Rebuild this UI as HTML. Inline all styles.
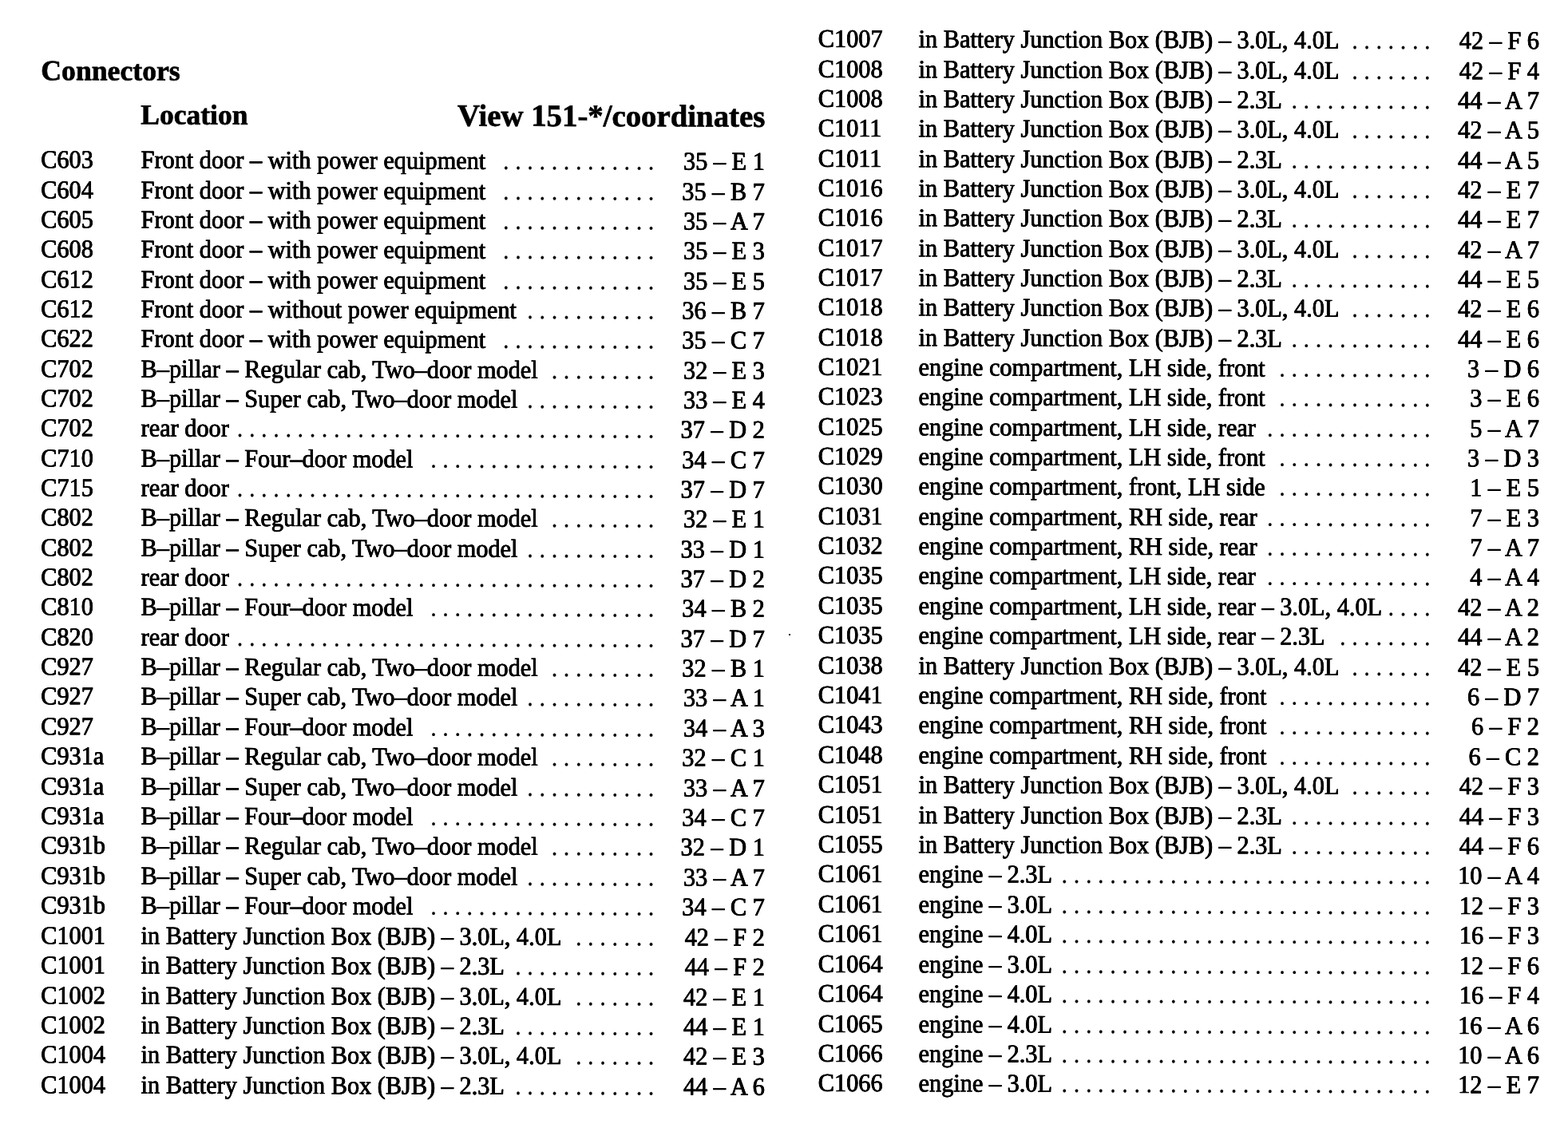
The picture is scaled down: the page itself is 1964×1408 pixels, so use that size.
<!DOCTYPE html>
<html lang="en"><head><meta charset="utf-8"><title>Connectors</title>
<style>
html,body{margin:0;padding:0;background:#fff}
body{width:1964px;height:1408px;position:relative;overflow:hidden;color:#000;
 font-family:"Liberation Serif","Times New Roman",Times,serif;font-size:30.3px;line-height:36px;
 -webkit-font-smoothing:antialiased}
.r{position:absolute;left:0;width:1964px;height:36px;white-space:pre;transform:scaleY(1.05);transform-origin:0 28.23px;-webkit-text-stroke:0.6px #000;text-shadow:0.3px 0 0 #000,-0.3px 0 0 #000}
.r span{position:absolute;top:0}
.r .d{-webkit-text-stroke:0.25px #000;text-shadow:none}
.h{position:absolute;font-weight:bold;white-space:pre;-webkit-text-stroke:0.7px #000}
#pg{position:absolute;left:0;top:0;width:1964px;height:1408px;transform:matrix(1,0.0028,0,1,0,0);transform-origin:0 0}
</style></head><body><div id="pg">
<div class="h" style="left:51.3px;top:66.95px;font-size:35.7px;line-height:43px;">Connectors</div>
<div class="h" style="left:176.3px;top:122.22px;font-size:35.5px;line-height:43px;">Location</div>
<div class="h" style="right:1005.7px;top:120.07px;font-size:38.8px;line-height:46px">View 151-*/coordinates</div>
<div class="r" style="top:182.47px"><span style="left:51.2px">C603</span><span style="left:176.6px">Front door – with power equipment</span><span class="d" style="right:1144.6px">. . . . . . . . . . . . .</span><span style="right:1006.2px">35 – E 1</span></div>
<div class="r" style="top:219.75px"><span style="left:51.2px">C604</span><span style="left:176.6px">Front door – with power equipment</span><span class="d" style="right:1144.6px">. . . . . . . . . . . . .</span><span style="right:1006.2px">35 – B 7</span></div>
<div class="r" style="top:257.03px"><span style="left:51.2px">C605</span><span style="left:176.6px">Front door – with power equipment</span><span class="d" style="right:1144.6px">. . . . . . . . . . . . .</span><span style="right:1006.2px">35 – A 7</span></div>
<div class="r" style="top:294.32px"><span style="left:51.2px">C608</span><span style="left:176.6px">Front door – with power equipment</span><span class="d" style="right:1144.6px">. . . . . . . . . . . . .</span><span style="right:1006.2px">35 – E 3</span></div>
<div class="r" style="top:331.62px"><span style="left:51.2px">C612</span><span style="left:176.6px">Front door – with power equipment</span><span class="d" style="right:1144.6px">. . . . . . . . . . . . .</span><span style="right:1006.2px">35 – E 5</span></div>
<div class="r" style="top:368.92px"><span style="left:51.2px">C612</span><span style="left:176.6px">Front door – without power equipment</span><span class="d" style="right:1144.6px">. . . . . . . . . . .</span><span style="right:1006.2px">36 – B 7</span></div>
<div class="r" style="top:406.23px"><span style="left:51.2px">C622</span><span style="left:176.6px">Front door – with power equipment</span><span class="d" style="right:1144.6px">. . . . . . . . . . . . .</span><span style="right:1006.2px">35 – C 7</span></div>
<div class="r" style="top:443.54px"><span style="left:51.2px">C702</span><span style="left:176.6px">B–pillar – Regular cab, Two–door model</span><span class="d" style="right:1144.6px">. . . . . . . . .</span><span style="right:1006.2px">32 – E 3</span></div>
<div class="r" style="top:480.86px"><span style="left:51.2px">C702</span><span style="left:176.6px">B–pillar – Super cab, Two–door model</span><span class="d" style="right:1144.6px">. . . . . . . . . . .</span><span style="right:1006.2px">33 – E 4</span></div>
<div class="r" style="top:518.19px"><span style="left:51.2px">C702</span><span style="left:176.6px">rear door</span><span class="d" style="right:1144.6px">. . . . . . . . . . . . . . . . . . . . . . . . . . . . . . . . . . .</span><span style="right:1006.2px">37 – D 2</span></div>
<div class="r" style="top:555.52px"><span style="left:51.2px">C710</span><span style="left:176.6px">B–pillar – Four–door model</span><span class="d" style="right:1144.6px">. . . . . . . . . . . . . . . . . . .</span><span style="right:1006.2px">34 – C 7</span></div>
<div class="r" style="top:592.86px"><span style="left:51.2px">C715</span><span style="left:176.6px">rear door</span><span class="d" style="right:1144.6px">. . . . . . . . . . . . . . . . . . . . . . . . . . . . . . . . . . .</span><span style="right:1006.2px">37 – D 7</span></div>
<div class="r" style="top:630.20px"><span style="left:51.2px">C802</span><span style="left:176.6px">B–pillar – Regular cab, Two–door model</span><span class="d" style="right:1144.6px">. . . . . . . . .</span><span style="right:1006.2px">32 – E 1</span></div>
<div class="r" style="top:667.55px"><span style="left:51.2px">C802</span><span style="left:176.6px">B–pillar – Super cab, Two–door model</span><span class="d" style="right:1144.6px">. . . . . . . . . . .</span><span style="right:1006.2px">33 – D 1</span></div>
<div class="r" style="top:704.91px"><span style="left:51.2px">C802</span><span style="left:176.6px">rear door</span><span class="d" style="right:1144.6px">. . . . . . . . . . . . . . . . . . . . . . . . . . . . . . . . . . .</span><span style="right:1006.2px">37 – D 2</span></div>
<div class="r" style="top:742.27px"><span style="left:51.2px">C810</span><span style="left:176.6px">B–pillar – Four–door model</span><span class="d" style="right:1144.6px">. . . . . . . . . . . . . . . . . . .</span><span style="right:1006.2px">34 – B 2</span></div>
<div class="r" style="top:779.64px"><span style="left:51.2px">C820</span><span style="left:176.6px">rear door</span><span class="d" style="right:1144.6px">. . . . . . . . . . . . . . . . . . . . . . . . . . . . . . . . . . .</span><span style="right:1006.2px">37 – D 7</span></div>
<div class="r" style="top:817.01px"><span style="left:51.2px">C927</span><span style="left:176.6px">B–pillar – Regular cab, Two–door model</span><span class="d" style="right:1144.6px">. . . . . . . . .</span><span style="right:1006.2px">32 – B 1</span></div>
<div class="r" style="top:854.39px"><span style="left:51.2px">C927</span><span style="left:176.6px">B–pillar – Super cab, Two–door model</span><span class="d" style="right:1144.6px">. . . . . . . . . . .</span><span style="right:1006.2px">33 – A 1</span></div>
<div class="r" style="top:891.78px"><span style="left:51.2px">C927</span><span style="left:176.6px">B–pillar – Four–door model</span><span class="d" style="right:1144.6px">. . . . . . . . . . . . . . . . . . .</span><span style="right:1006.2px">34 – A 3</span></div>
<div class="r" style="top:929.17px"><span style="left:51.2px">C931a</span><span style="left:176.6px">B–pillar – Regular cab, Two–door model</span><span class="d" style="right:1144.6px">. . . . . . . . .</span><span style="right:1006.2px">32 – C 1</span></div>
<div class="r" style="top:966.57px"><span style="left:51.2px">C931a</span><span style="left:176.6px">B–pillar – Super cab, Two–door model</span><span class="d" style="right:1144.6px">. . . . . . . . . . .</span><span style="right:1006.2px">33 – A 7</span></div>
<div class="r" style="top:1003.98px"><span style="left:51.2px">C931a</span><span style="left:176.6px">B–pillar – Four–door model</span><span class="d" style="right:1144.6px">. . . . . . . . . . . . . . . . . . .</span><span style="right:1006.2px">34 – C 7</span></div>
<div class="r" style="top:1041.39px"><span style="left:51.2px">C931b</span><span style="left:176.6px">B–pillar – Regular cab, Two–door model</span><span class="d" style="right:1144.6px">. . . . . . . . .</span><span style="right:1006.2px">32 – D 1</span></div>
<div class="r" style="top:1078.80px"><span style="left:51.2px">C931b</span><span style="left:176.6px">B–pillar – Super cab, Two–door model</span><span class="d" style="right:1144.6px">. . . . . . . . . . .</span><span style="right:1006.2px">33 – A 7</span></div>
<div class="r" style="top:1116.23px"><span style="left:51.2px">C931b</span><span style="left:176.6px">B–pillar – Four–door model</span><span class="d" style="right:1144.6px">. . . . . . . . . . . . . . . . . . .</span><span style="right:1006.2px">34 – C 7</span></div>
<div class="r" style="top:1153.66px"><span style="left:51.2px">C1001</span><span style="left:176.6px">in Battery Junction Box (BJB) – 3.0L, 4.0L</span><span class="d" style="right:1144.6px">. . . . . . .</span><span style="right:1006.2px">42 – F 2</span></div>
<div class="r" style="top:1191.09px"><span style="left:51.2px">C1001</span><span style="left:176.6px">in Battery Junction Box (BJB) – 2.3L</span><span class="d" style="right:1144.6px">. . . . . . . . . . . .</span><span style="right:1006.2px">44 – F 2</span></div>
<div class="r" style="top:1228.53px"><span style="left:51.2px">C1002</span><span style="left:176.6px">in Battery Junction Box (BJB) – 3.0L, 4.0L</span><span class="d" style="right:1144.6px">. . . . . . .</span><span style="right:1006.2px">42 – E 1</span></div>
<div class="r" style="top:1265.98px"><span style="left:51.2px">C1002</span><span style="left:176.6px">in Battery Junction Box (BJB) – 2.3L</span><span class="d" style="right:1144.6px">. . . . . . . . . . . .</span><span style="right:1006.2px">44 – E 1</span></div>
<div class="r" style="top:1303.43px"><span style="left:51.2px">C1004</span><span style="left:176.6px">in Battery Junction Box (BJB) – 3.0L, 4.0L</span><span class="d" style="right:1144.6px">. . . . . . .</span><span style="right:1006.2px">42 – E 3</span></div>
<div class="r" style="top:1340.89px"><span style="left:51.2px">C1004</span><span style="left:176.6px">in Battery Junction Box (BJB) – 2.3L</span><span class="d" style="right:1144.6px">. . . . . . . . . . . .</span><span style="right:1006.2px">44 – A 6</span></div>
<div class="r" style="top:28.49px"><span style="left:1024.8px">C1007</span><span style="left:1150.6px">in Battery Junction Box (BJB) – 3.0L, 4.0L</span><span class="d" style="right:172.4px">. . . . . . .</span><span style="right:36.0px">42 – F 6</span></div>
<div class="r" style="top:65.78px"><span style="left:1024.8px">C1008</span><span style="left:1150.6px">in Battery Junction Box (BJB) – 3.0L, 4.0L</span><span class="d" style="right:172.4px">. . . . . . .</span><span style="right:36.0px">42 – F 4</span></div>
<div class="r" style="top:103.07px"><span style="left:1024.8px">C1008</span><span style="left:1150.6px">in Battery Junction Box (BJB) – 2.3L</span><span class="d" style="right:172.4px">. . . . . . . . . . . .</span><span style="right:36.0px">44 – A 7</span></div>
<div class="r" style="top:140.37px"><span style="left:1024.8px">C1011</span><span style="left:1150.6px">in Battery Junction Box (BJB) – 3.0L, 4.0L</span><span class="d" style="right:172.4px">. . . . . . .</span><span style="right:36.0px">42 – A 5</span></div>
<div class="r" style="top:177.67px"><span style="left:1024.8px">C1011</span><span style="left:1150.6px">in Battery Junction Box (BJB) – 2.3L</span><span class="d" style="right:172.4px">. . . . . . . . . . . .</span><span style="right:36.0px">44 – A 5</span></div>
<div class="r" style="top:214.98px"><span style="left:1024.8px">C1016</span><span style="left:1150.6px">in Battery Junction Box (BJB) – 3.0L, 4.0L</span><span class="d" style="right:172.4px">. . . . . . .</span><span style="right:36.0px">42 – E 7</span></div>
<div class="r" style="top:252.29px"><span style="left:1024.8px">C1016</span><span style="left:1150.6px">in Battery Junction Box (BJB) – 2.3L</span><span class="d" style="right:172.4px">. . . . . . . . . . . .</span><span style="right:36.0px">44 – E 7</span></div>
<div class="r" style="top:289.61px"><span style="left:1024.8px">C1017</span><span style="left:1150.6px">in Battery Junction Box (BJB) – 3.0L, 4.0L</span><span class="d" style="right:172.4px">. . . . . . .</span><span style="right:36.0px">42 – A 7</span></div>
<div class="r" style="top:326.93px"><span style="left:1024.8px">C1017</span><span style="left:1150.6px">in Battery Junction Box (BJB) – 2.3L</span><span class="d" style="right:172.4px">. . . . . . . . . . . .</span><span style="right:36.0px">44 – E 5</span></div>
<div class="r" style="top:364.26px"><span style="left:1024.8px">C1018</span><span style="left:1150.6px">in Battery Junction Box (BJB) – 3.0L, 4.0L</span><span class="d" style="right:172.4px">. . . . . . .</span><span style="right:36.0px">42 – E 6</span></div>
<div class="r" style="top:401.59px"><span style="left:1024.8px">C1018</span><span style="left:1150.6px">in Battery Junction Box (BJB) – 2.3L</span><span class="d" style="right:172.4px">. . . . . . . . . . . .</span><span style="right:36.0px">44 – E 6</span></div>
<div class="r" style="top:438.93px"><span style="left:1024.8px">C1021</span><span style="left:1150.6px">engine compartment, LH side, front</span><span class="d" style="right:172.4px">. . . . . . . . . . . . .</span><span style="right:36.0px">3 – D 6</span></div>
<div class="r" style="top:476.27px"><span style="left:1024.8px">C1023</span><span style="left:1150.6px">engine compartment, LH side, front</span><span class="d" style="right:172.4px">. . . . . . . . . . . . .</span><span style="right:36.0px">3 – E 6</span></div>
<div class="r" style="top:513.61px"><span style="left:1024.8px">C1025</span><span style="left:1150.6px">engine compartment, LH side, rear</span><span class="d" style="right:172.4px">. . . . . . . . . . . . . .</span><span style="right:36.0px">5 – A 7</span></div>
<div class="r" style="top:550.96px"><span style="left:1024.8px">C1029</span><span style="left:1150.6px">engine compartment, LH side, front</span><span class="d" style="right:172.4px">. . . . . . . . . . . . .</span><span style="right:36.0px">3 – D 3</span></div>
<div class="r" style="top:588.32px"><span style="left:1024.8px">C1030</span><span style="left:1150.6px">engine compartment, front, LH side</span><span class="d" style="right:172.4px">. . . . . . . . . . . . .</span><span style="right:36.0px">1 – E 5</span></div>
<div class="r" style="top:625.68px"><span style="left:1024.8px">C1031</span><span style="left:1150.6px">engine compartment, RH side, rear</span><span class="d" style="right:172.4px">. . . . . . . . . . . . . .</span><span style="right:36.0px">7 – E 3</span></div>
<div class="r" style="top:663.05px"><span style="left:1024.8px">C1032</span><span style="left:1150.6px">engine compartment, RH side, rear</span><span class="d" style="right:172.4px">. . . . . . . . . . . . . .</span><span style="right:36.0px">7 – A 7</span></div>
<div class="r" style="top:700.42px"><span style="left:1024.8px">C1035</span><span style="left:1150.6px">engine compartment, LH side, rear</span><span class="d" style="right:172.4px">. . . . . . . . . . . . . .</span><span style="right:36.0px">4 – A 4</span></div>
<div class="r" style="top:737.79px"><span style="left:1024.8px">C1035</span><span style="left:1150.6px">engine compartment, LH side, rear – 3.0L, 4.0L</span><span class="d" style="right:172.4px">. . . .</span><span style="right:36.0px">42 – A 2</span></div>
<div class="r" style="top:775.17px"><span style="left:1024.8px">C1035</span><span style="left:1150.6px">engine compartment, LH side, rear – 2.3L</span><span class="d" style="right:172.4px">. . . . . . . .</span><span style="right:36.0px">44 – A 2</span></div>
<div class="r" style="top:812.56px"><span style="left:1024.8px">C1038</span><span style="left:1150.6px">in Battery Junction Box (BJB) – 3.0L, 4.0L</span><span class="d" style="right:172.4px">. . . . . . .</span><span style="right:36.0px">42 – E 5</span></div>
<div class="r" style="top:849.95px"><span style="left:1024.8px">C1041</span><span style="left:1150.6px">engine compartment, RH side, front</span><span class="d" style="right:172.4px">. . . . . . . . . . . . .</span><span style="right:36.0px">6 – D 7</span></div>
<div class="r" style="top:887.34px"><span style="left:1024.8px">C1043</span><span style="left:1150.6px">engine compartment, RH side, front</span><span class="d" style="right:172.4px">. . . . . . . . . . . . .</span><span style="right:36.0px">6 – F 2</span></div>
<div class="r" style="top:924.74px"><span style="left:1024.8px">C1048</span><span style="left:1150.6px">engine compartment, RH side, front</span><span class="d" style="right:172.4px">. . . . . . . . . . . . .</span><span style="right:36.0px">6 – C 2</span></div>
<div class="r" style="top:962.15px"><span style="left:1024.8px">C1051</span><span style="left:1150.6px">in Battery Junction Box (BJB) – 3.0L, 4.0L</span><span class="d" style="right:172.4px">. . . . . . .</span><span style="right:36.0px">42 – F 3</span></div>
<div class="r" style="top:999.56px"><span style="left:1024.8px">C1051</span><span style="left:1150.6px">in Battery Junction Box (BJB) – 2.3L</span><span class="d" style="right:172.4px">. . . . . . . . . . . .</span><span style="right:36.0px">44 – F 3</span></div>
<div class="r" style="top:1036.97px"><span style="left:1024.8px">C1055</span><span style="left:1150.6px">in Battery Junction Box (BJB) – 2.3L</span><span class="d" style="right:172.4px">. . . . . . . . . . . .</span><span style="right:36.0px">44 – F 6</span></div>
<div class="r" style="top:1074.39px"><span style="left:1024.8px">C1061</span><span style="left:1150.6px">engine – 2.3L</span><span class="d" style="right:172.4px">. . . . . . . . . . . . . . . . . . . . . . . . . . . . . . .</span><span style="right:36.0px">10 – A 4</span></div>
<div class="r" style="top:1111.82px"><span style="left:1024.8px">C1061</span><span style="left:1150.6px">engine – 3.0L</span><span class="d" style="right:172.4px">. . . . . . . . . . . . . . . . . . . . . . . . . . . . . . .</span><span style="right:36.0px">12 – F 3</span></div>
<div class="r" style="top:1149.25px"><span style="left:1024.8px">C1061</span><span style="left:1150.6px">engine – 4.0L</span><span class="d" style="right:172.4px">. . . . . . . . . . . . . . . . . . . . . . . . . . . . . . .</span><span style="right:36.0px">16 – F 3</span></div>
<div class="r" style="top:1186.68px"><span style="left:1024.8px">C1064</span><span style="left:1150.6px">engine – 3.0L</span><span class="d" style="right:172.4px">. . . . . . . . . . . . . . . . . . . . . . . . . . . . . . .</span><span style="right:36.0px">12 – F 6</span></div>
<div class="r" style="top:1224.12px"><span style="left:1024.8px">C1064</span><span style="left:1150.6px">engine – 4.0L</span><span class="d" style="right:172.4px">. . . . . . . . . . . . . . . . . . . . . . . . . . . . . . .</span><span style="right:36.0px">16 – F 4</span></div>
<div class="r" style="top:1261.57px"><span style="left:1024.8px">C1065</span><span style="left:1150.6px">engine – 4.0L</span><span class="d" style="right:172.4px">. . . . . . . . . . . . . . . . . . . . . . . . . . . . . . .</span><span style="right:36.0px">16 – A 6</span></div>
<div class="r" style="top:1299.02px"><span style="left:1024.8px">C1066</span><span style="left:1150.6px">engine – 2.3L</span><span class="d" style="right:172.4px">. . . . . . . . . . . . . . . . . . . . . . . . . . . . . . .</span><span style="right:36.0px">10 – A 6</span></div>
<div class="r" style="top:1336.47px"><span style="left:1024.8px">C1066</span><span style="left:1150.6px">engine – 3.0L</span><span class="d" style="right:172.4px">. . . . . . . . . . . . . . . . . . . . . . . . . . . . . . .</span><span style="right:36.0px">12 – E 7</span></div>
</div><div style="position:absolute;left:988px;top:794px;width:2px;height:2px;background:#000"></div></body></html>
